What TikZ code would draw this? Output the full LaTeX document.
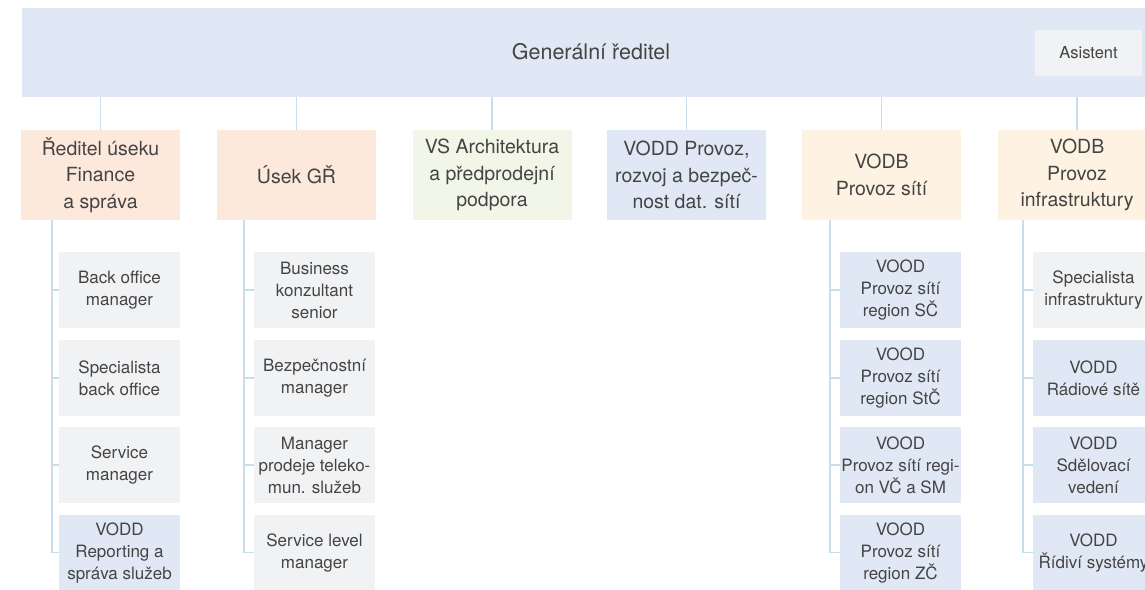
\documentclass[tikz,border=0pt]{standalone}
\usepackage{fontspec}
\setmainfont{TeX Gyre Heros}
\definecolor{cblue}{HTML}{E0E8F5}
\definecolor{corange}{HTML}{FDE9DC}
\definecolor{cgreen}{HTML}{F2F6E8}
\definecolor{cyellow}{HTML}{FEF3E2}
\definecolor{cgray}{HTML}{F1F2F4}
\definecolor{cline}{HTML}{C6DEEE}
\definecolor{ctext}{HTML}{444444}
\tikzset{
  base/.style={inner sep=0pt, outer sep=0pt, align=center, text=ctext},
  lvl/.style={base, minimum width=159pt, minimum height=90pt, font=\fontsize{19.5}{26.5}\selectfont},
  kid/.style={base, minimum width=121pt, minimum height=76pt, font=\fontsize{17}{22}\selectfont},
  conn/.style={draw=cline, line width=1.4pt},
}
\begin{document}
\begin{tikzpicture}[x=1pt,y=-1pt]
\path[use as bounding box, clip] (0,0) rectangle (1145,589);
\fill[white] (0,0) rectangle (1145,589);
% banner
\node[base, fill=cblue, minimum width=1135pt, minimum height=89pt] (gr) at (589.5,52.5) {};
\node[base, font=\fontsize{21.5}{26}\selectfont] (grt) at (591,52) {Generální ředitel};
\node[base, fill=cgray, minimum width=107pt, minimum height=46pt, font=\fontsize{16.5}{20}\selectfont] (as) at (1088.5,53) {Asistent};
% level 1
\node[lvl, fill=corange] (p1) at (100.5,175) {Ředitel úseku\\Finance\\a správa};
\node[lvl, fill=corange] (p2) at (296.5,175) {Úsek GŘ};
\node[lvl, fill=cgreen] (p3) at (492,175) {VS Architektura\\a předprodejní\\podpora};
\node[lvl, fill=cblue] (p4) at (686.5,175) {VODD Provoz,\\rozvoj a bezpeč-\\nost dat. sítí};
\node[lvl, fill=cyellow] (p5) at (881.5,175) {VODB\\Provoz sítí};
\node[lvl, fill=cyellow] (p6) at (1077,175) {VODB\\Provoz\\infrastruktury};
\foreach \p in {p1,p2,p3,p4,p5,p6} \draw[conn] (gr.south -| \p.north) -- (\p.north);
% children column 1
\node[kid, fill=cgray] (a1) at (119.5,290) {Back office\\manager};
\node[kid, fill=cgray] (a2) at (119.5,378) {Specialista\\back office};
\node[kid, fill=cgray] (a3) at (119.5,465) {Service\\manager};
\node[kid, fill=cblue] (a4) at (119.5,552.5) {VODD\\Reporting a\\správa služeb};
% column 2
\node[kid, fill=cgray] (b1) at (314.5,290) {Business\\konzultant\\senior};
\node[kid, fill=cgray] (b2) at (314.5,378) {Bezpečnostní\\manager};
\node[kid, fill=cgray] (b3) at (314.5,465) {Manager\\prodeje teleko-\\mun. služeb};
\node[kid, fill=cgray] (b4) at (314.5,552.5) {Service level\\manager};
% column 5
\node[kid, fill=cblue] (e1) at (900.5,290) {VOOD\\Provoz sítí\\region SČ};
\node[kid, fill=cblue] (e2) at (900.5,378) {VOOD\\Provoz sítí\\region StČ};
\node[kid, fill=cblue] (e3) at (900.5,465) {VOOD\\Provoz sítí regi-\\on VČ a SM};
\node[kid, fill=cblue] (e4) at (900.5,552.5) {VOOD\\Provoz sítí\\region ZČ};
% column 6
\node[kid, fill=cgray] (f1) at (1093.5,290) {Specialista\\infrastruktury};
\node[kid, fill=cblue] (f2) at (1093.5,378) {VODD\\Rádiové sítě};
\node[kid, fill=cblue] (f3) at (1093.5,465) {VODD\\Sdělovací\\vedení};
\node[kid, fill=cblue] (f4) at (1093.5,552.5) {VODD\\Řídiví systémy};
% spines
\coordinate (s1) at (52,220);
\coordinate (s2) at (244,220);
\coordinate (s5) at (830,220);
\coordinate (s6) at (1023,220);
\foreach \s/\c in {s1/a, s2/b, s5/e, s6/f} {
  \draw[conn] (\s) |- (\c4.west);
  \foreach \i in {1,2,3} \draw[conn] (\s |- \c\i.west) -- (\c\i.west);
}
\end{tikzpicture}
\end{document}
